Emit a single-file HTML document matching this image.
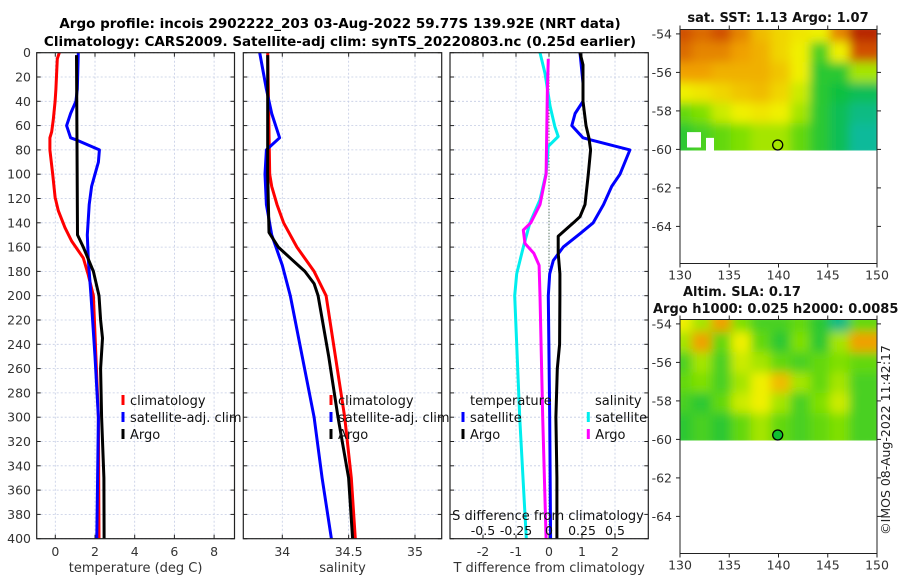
<!DOCTYPE html>
<html><head><meta charset="utf-8"><style>
body{margin:0;background:#fff}
svg{display:block;font-family:"DejaVu Sans","Liberation Sans",sans-serif}
</style></head><body>
<svg id="fig" width="900" height="580" viewBox="0 0 900 580">
<defs>
<filter id="blur" x="-5%" y="-5%" width="110%" height="110%"><feGaussianBlur stdDeviation="5"/></filter>
<clipPath id="clip1"><rect x="680" y="29.5" width="197" height="121"/></clipPath>
<clipPath id="clip2"><rect x="680" y="319.5" width="197" height="121"/></clipPath>
</defs>
<g id="titles" font-weight="bold" font-size="13.5" text-anchor="middle">
<text x="340" y="28">Argo profile: incois 2902222_203 03-Aug-2022 59.77S 139.92E (NRT data)</text>
<text x="340" y="46">Climatology: CARS2009. Satellite-adj clim: synTS_20220803.nc (0.25d earlier)</text>
</g>
<g id="panels"></g>
<g id="maps"></g>
<text transform="translate(890,440) rotate(-90)" text-anchor="middle" font-size="12.5" fill="#222">©IMOS 08-Aug-2022 11:42:17</text>
</svg>
<script>
// ---- Depth profile data (depth in m) ----
const climTDepth=[0,5,30,40,55,65,70,80,100,119,130,144,155,169,183,200,300,400];
const climT=[0.2,0.1,0.03,-0.01,-0.1,-0.18,-0.27,-0.27,-0.13,-0.01,0.15,0.49,0.82,1.41,1.66,1.92,2.17,2.2];
const argoTDepth=[2,150,160,180,200,220,235,260,300,350,400];
const argoT=[1.07,1.12,1.41,1.92,2.2,2.28,2.38,2.28,2.33,2.45,2.46];
const satTDepth=[0,30,40,50,60,70,72,80,90,100,110,125,150,170,200,250,300,350,400];
const satT=[1.16,1.11,1.04,0.77,0.57,0.77,1.1,2.22,2.17,2.0,1.83,1.71,1.61,1.66,1.8,2.0,2.17,2.13,2.09];

const climSDepth=[0,100,110,125,140,160,180,200,250,300,350,400];
const climS=[33.89,33.905,33.92,33.96,34.01,34.11,34.24,34.33,34.4,34.47,34.52,34.55];
const argoSDepth=[2,100,148,160,170,180,190,200,250,300,350,400];
const argoS=[33.89,33.89,33.9,33.97,34.07,34.17,34.24,34.27,34.35,34.42,34.5,34.53];
const satSDepth=[0,30,50,70,80,100,125,150,175,200,250,300,350,400];
const satS=[33.83,33.88,33.92,33.98,33.88,33.87,33.88,33.92,34.0,34.06,34.15,34.24,34.3,34.37];

const dArgoTDepth=[0,10,40,60,70,80,100,125,135,140,151,165,182,200,240,260,300,350,400];
const dArgoT=[0.94,1.03,1.03,1.12,1.21,1.26,1.19,1.09,0.94,0.74,0.28,0.28,0.33,0.33,0.32,0.25,0.21,0.24,0.24];
const dSatTDepth=[0,25,40,50,60,70,72,80,100,110,125,140,149,160,171,182,200,300,400];
const dSatT=[0.94,1.03,1.03,0.79,0.69,1.03,1.3,2.45,2.15,1.9,1.65,1.34,0.94,0.43,0.13,0.02,-0.02,0.02,0.05];
const dSatSDepth=[0,17,44,61,69,77,99,121,140,160,182,200,300,400];
const dSatS=[-0.068,-0.03,0.008,0.045,0.07,-0.005,-0.022,-0.068,-0.145,-0.195,-0.245,-0.26,-0.222,-0.172];
const dArgoSDepth=[5,30,100,125,140,146,157,165,175,200,300,400];
const dArgoS=[-0.005,-0.012,-0.022,-0.068,-0.138,-0.195,-0.182,-0.115,-0.075,-0.068,-0.048,-0.022];

const depthTicks=[0,20,40,60,80,100,120,140,160,180,200,220,240,260,280,300,320,340,360,380,400];
const tTicks=[0,2,4,6,8];
const sTicks=[34,34.5,35];
const dTTicks=[-2,-1,0,1,2];
const dSTicks=[-0.5,-0.25,0,0.25,0.5];

// ---- Map data (rows top->bottom, cols 130->150) ----
const sstGrid=[
[0.9,0.85,0.9,0.8,0.7,0.65,0.62,0.6,0.8,0.95],
[0.85,0.8,0.8,0.75,0.72,0.65,0.6,0.35,0.6,0.9],
[0.75,0.75,0.72,0.72,0.72,0.68,0.6,0.3,0.3,0.5],
[0.6,0.62,0.65,0.68,0.7,0.65,0.55,0.3,0.25,0.2],
[0.4,0.45,0.55,0.6,0.62,0.6,0.5,0.3,0.2,0.1],
[0.3,0.35,0.4,0.45,0.5,0.5,0.4,0.3,0.2,0.05]];
const slaGrid=[
[0.6,0.5,0.75,0.45,0.35,0.35,0.4,0.3,0.1,0.4],
[0.5,0.75,0.4,0.6,0.4,0.3,0.45,0.3,0.5,0.75],
[0.35,0.5,0.35,0.55,0.5,0.4,0.35,0.4,0.45,0.4],
[0.4,0.45,0.35,0.5,0.6,0.7,0.5,0.4,0.5,0.35],
[0.35,0.3,0.4,0.55,0.6,0.5,0.35,0.45,0.55,0.35],
[0.3,0.35,0.3,0.4,0.5,0.4,0.35,0.4,0.45,0.35]];
const latTicks=[-54,-56,-58,-60,-62,-64];
const lonTicks=[130,135,140,145,150];
const argoLon=139.92, argoLat=-59.77;

const NS='http://www.w3.org/2000/svg';
function mk(tag,attrs,parent){const e=document.createElementNS(NS,tag);for(const k in attrs)e.setAttribute(k,attrs[k]);parent.appendChild(e);return e;}
const panels=document.getElementById('panels');
const yD=d=>52.7+d*1.215;
const PT=535;

function drawPanel(x0,x1,xs,ticks,tickFmt,xlabel,name){
  const g=mk('g',{},panels);
  
  
  depthTicks.forEach(d=>{const l=mk('line',{x1:x0,x2:x1,y1:yD(d),y2:yD(d),stroke:'#c4cce4','stroke-width':0.8,'stroke-dasharray':'2,2'},g);});
  ticks.forEach(t=>{const x=xs(t);const l=mk('line',{x1:x,x2:x,y1:yD(0),y2:yD(400),stroke:'#c4cce4','stroke-width':0.8,'stroke-dasharray':'2,2'},g);
    const tl=mk('text',{x:x,y:556,'text-anchor':'middle','font-size':12.5,fill:'#333'},g);tl.textContent=tickFmt(t);
    mk('line',{x1:x,x2:x,y1:yD(400),y2:yD(400)-4,stroke:'#222'},g);mk('line',{x1:x,x2:x,y1:yD(0),y2:yD(0)+4,stroke:'#222'},g);});
  depthTicks.forEach(d=>{mk('line',{x1:x0,x2:x0+4,y1:yD(d),y2:yD(d),stroke:'#222'},g);mk('line',{x1:x1,x2:x1-4,y1:yD(d),y2:yD(d),stroke:'#222'},g);});
  const xl=mk('text',{x:(x0+x1)/2,y:572,'text-anchor':'middle','font-size':13,fill:'#333'},g);xl.textContent=xlabel;
  return g;
}
function frame(g,x0,x1){const r=mk('rect',{x:x0,y:yD(0),width:x1-x0,height:yD(400)-yD(0),fill:'none',stroke:'#222','stroke-width':1.2},g);}
function series(g,depths,vals,xs,color,name,w){
  const d=vals.map((v,i)=>(i?'L':'M')+xs(v).toFixed(1)+','+yD(depths[i]).toFixed(1)).join('');
  const p=mk('path',{d:d,fill:'none',stroke:color,'stroke-width':w||3,'stroke-linejoin':'round'},g);
  
  
}
function legend(g,x,y,items){items.forEach((it,i)=>{const yy=y+i*17;
  mk('line',{x1:x,x2:x,y1:yy-5,y2:yy+5,stroke:it[1],'stroke-width':3},g);
  const t=mk('text',{x:x+7,y:yy+5,'font-size':13,fill:'#111'},g);t.textContent=it[0];
  
  });}

// Depth labels
const yl=mk('g',{'font-size':12.5,fill:'#333','text-anchor':'end'},panels);
depthTicks.forEach(d=>{const t=mk('text',{x:31,y:yD(d)+4.5},yl);t.textContent=d;});

// Panel 1 temperature
const xT=v=>55.3+19.85*v;
const g1=drawPanel(36.7,234.5,xT,tTicks,t=>t,'temperature (deg C)','temperature-panel');
series(g1,climTDepth,climT,xT,'#ff0000','climatology-temperature-line');
series(g1,satTDepth,satT,xT,'#0000ff','satellite-temperature-line');
series(g1,argoTDepth,argoT,xT,'#000000','argo-temperature-line');
frame(g1,36.7,234.5);
legend(g1,123,400,[['climatology','#ff0000'],['satellite-adj. clim','#0000ff'],['Argo','#000']]);

// Panel 2 salinity
const xS=v=>282.3+132.7*(v-34);
const g2=drawPanel(243.3,441.7,xS,sTicks,t=>t,'salinity','salinity-panel');
series(g2,climSDepth,climS,xS,'#ff0000','climatology-salinity-line');
series(g2,satSDepth,satS,xS,'#0000ff','satellite-salinity-line');
series(g2,argoSDepth,argoS,xS,'#000000','argo-salinity-line');
frame(g2,243.3,441.7);
legend(g2,331,400,[['climatology','#ff0000'],['satellite-adj. clim','#0000ff'],['Argo','#000']]);

// Panel 3 differences
const xDT=v=>549+33*v;
const xDS=v=>549+132*v;
const g3=drawPanel(450,648.3,xDT,dTTicks,t=>t,'T difference from climatology','difference-panel');
mk('line',{x1:xDT(0),x2:xDT(0),y1:yD(0),y2:yD(400),stroke:'#335533','stroke-width':1,'stroke-dasharray':'1,2'},g3);
series(g3,dSatSDepth,dSatS,xDS,'#00eeee','satellite-salinity-diff-line');
series(g3,dArgoSDepth,dArgoS,xDS,'#ff00ff','argo-salinity-diff-line');
series(g3,dSatTDepth,dSatT,xDT,'#0000ff','satellite-temperature-diff-line');
series(g3,dArgoTDepth,dArgoT,xDT,'#000000','argo-temperature-diff-line');
frame(g3,450,648.3);
{const t=mk('text',{x:470,y:405,'font-size':13,fill:'#111'},g3);t.textContent='temperature';
 const s=mk('text',{x:595,y:405,'font-size':13,fill:'#111'},g3);s.textContent='salinity';}
legend(g3,463,417,[['satellite','#0000ff'],['Argo','#000']]);
legend(g3,588.3,417,[['satellite','#00eeee'],['Argo','#ff00ff']]);
{const t=mk('text',{x:548,y:520,'text-anchor':'middle','font-size':13,fill:'#111'},g3);t.textContent='S difference from climatology';
 dSTicks.forEach(v=>{const l=mk('text',{x:xDS(v),y:535,'text-anchor':'middle','font-size':12.5,fill:'#111'},g3);l.textContent=v;});}

// ---- Maps ----
const maps=document.getElementById('maps');
const stops=[[0,[16,184,176]],[0.25,[16,192,64]],[0.45,[128,224,0]],[0.6,[240,240,0]],[0.75,[240,160,0]],[0.9,[208,80,0]],[1,[160,0,0]]];
function cmap(v){for(let i=1;i<stops.length;i++){if(v<=stops[i][0]){const a=stops[i-1],b=stops[i],f=(v-a[0])/(b[0]-a[0]);return 'rgb('+a[1].map((c,k)=>Math.round(c+(b[1][k]-c)*f)).join(',')+')';}}return 'rgb(160,0,0)';}
function drawMap(top,grid,clip,name,filled,title){
  const lonX=l=>680+(l-130)*9.85;
  const latY=l=>top+4.4+(-54-l)*19.25;
  const g=mk('g',{},maps);
  
  
  const hg=mk('g',{'clip-path':'url(#'+clip+')'},g);
  const hb=mk('g',{filter:'url(#blur)'},hg);
  const rows=grid.length,cols=grid[0].length,ytop=top,ybot=latY(-60.1);
  grid.forEach((row,r)=>row.forEach((v,c)=>{
    const cell=mk('rect',{x:lonX(130+c*2)-8,y:ytop+(ybot-ytop)*r/rows-8,width:9.85*2+16,height:(ybot-ytop)/rows+16,fill:cmap(v)},hb);
    
    
  }));
  if(!filled){mk('path',{d:'M687,'+latY(-59.1)+'h14v'+(latY(-59.9)-latY(-59.1))+'h-14zM706,'+latY(-59.4)+'h8v14h-8z',fill:'#fff'},hg);}
  const bot=top+234;
  mk('rect',{x:680,y:top,width:197,height:bot-top,fill:'none',stroke:'#222','stroke-width':1},g);
  latTicks.forEach(l=>{const y=latY(l);mk('line',{x1:680,x2:676,y1:y,y2:y,stroke:'#222'},g);mk('line',{x1:877,x2:881,y1:y,y2:y,stroke:'#222'},g);
    const t=mk('text',{x:672,y:y+4.5,'text-anchor':'end','font-size':12.5,fill:'#333'},g);t.textContent=l;});
  lonTicks.forEach(l=>{const x=lonX(l);mk('line',{x1:x,x2:x,y1:bot,y2:bot+4,stroke:'#222'},g);mk('line',{x1:x,x2:x,y1:top,y2:top-4,stroke:'#222'},g);
    const t=mk('text',{x:x,y:bot+16,'text-anchor':'middle','font-size':12.5,fill:'#333'},g);t.textContent=l;});
  const c=mk('circle',{cx:lonX(argoLon),cy:latY(argoLat),r:5,fill:filled?'#10c030':'none',stroke:'#000','stroke-width':1.3},g);
  
  
  return g;
}
const m1=drawMap(29.5,sstGrid,'clip1','sst-map',false);
const m2=drawMap(319.5,slaGrid,'clip2','sla-map',true);
[[778,22,'middle','sat. SST: 1.13 Argo: 1.07','sst-map-title'],[683,296,'start','Altim. SLA: 0.17','sla-map-title'],[653,313,'start','Argo h1000: 0.025 h2000: 0.0085','steric-height-title']].forEach(a=>{
  const t=mk('text',{x:a[0],y:a[1],'text-anchor':a[2],'font-size':13,'font-weight':'bold',fill:'#111'},maps);t.textContent=a[3];
  
  });
</script>
</body></html>
